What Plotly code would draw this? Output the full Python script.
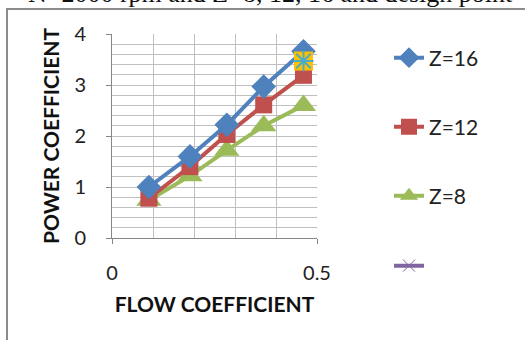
import plotly.graph_objects as go

flow = [0.09, 0.19, 0.28, 0.37, 0.467]
z16 = [1.0, 1.6, 2.22, 2.97, 3.66]
z12 = [0.78, 1.40, 2.03, 2.61, 3.19]
z8 = [0.74, 1.22, 1.72, 2.2, 2.6]
design_x = [0.467]
design_y = [3.47]

W, H = 525, 340
L, R, T, B = 112, 208, 34, 102
pw, ph = W - L - R, H - T - B


def px(x):
    return (x - L) / pw


def py(y):
    return (H - B - y) / ph


font = "Lato, Open Sans, sans-serif"
fig = go.Figure()
fig.add_trace(go.Scatter(x=flow, y=z8, name="Z=8", mode="lines+markers",
                         line=dict(color="#9BBB59", width=4),
                         marker=dict(symbol="triangle-up", size=22, color="#9BBB59"),
                         legend="legend3"))
fig.add_trace(go.Scatter(x=flow, y=z12, name="Z=12", mode="lines+markers",
                         line=dict(color="#C0504D", width=4),
                         marker=dict(symbol="square", size=17, color="#C0504D"),
                         legend="legend2"))
fig.add_trace(go.Scatter(x=flow, y=z16, name="Z=16", mode="lines+markers",
                         line=dict(color="#4F81BD", width=4),
                         marker=dict(symbol="diamond", size=19, color="#4F81BD"),
                         legend="legend"))
fig.add_trace(go.Scatter(x=design_x, y=design_y, name=" ", mode="lines+markers",
                         line=dict(color="#8064A2", width=4),
                         marker=dict(symbol="x-thin", size=12, line=dict(color="#8064A2", width=1)),
                         legend="legend4"))
fig.add_trace(go.Scatter(x=design_x, y=design_y, mode="markers", showlegend=False,
                         marker=dict(symbol="square", size=19, color="#FFC000")))
fig.add_trace(go.Scatter(x=design_x, y=design_y, mode="markers", showlegend=False,
                         marker=dict(symbol="asterisk", size=17, line=dict(color="#4BACC6", width=2))))

leg_common = dict(xanchor="left", yanchor="middle", bgcolor="rgba(0,0,0,0)",
                  font=dict(family=font, size=21, color="#222"), itemwidth=30)
lx = px(389)
fig.update_layout(
    width=W, height=H,
    margin=dict(l=L, r=R, t=T, b=B),
    paper_bgcolor="white", plot_bgcolor="white",
    legend=dict(x=lx, y=py(58), **leg_common),
    legend2=dict(x=lx, y=py(127), **leg_common),
    legend3=dict(x=lx, y=py(196), **leg_common),
    legend4=dict(x=lx, y=py(266), **leg_common),
    xaxis=dict(range=[0, 0.5], tickvals=[0, 0.5], ticktext=["0", "0.5"],
               showgrid=True, gridcolor="#BFBFBF", gridwidth=1,
               minor=dict(dtick=0.1, showgrid=True, gridcolor="#BFBFBF", gridwidth=1),
               showline=True, linecolor="#868686", linewidth=1,
               ticks="outside", ticklen=5, tickcolor="#868686",
               ticklabelstandoff=12,
               tickfont=dict(family=font, size=20, color="#222"),
               title=dict(text="<b>FLOW COEFFICIENT</b>", standoff=14,
                          font=dict(family=font, size=21, color="#111")),
               zeroline=False, fixedrange=True),
    yaxis=dict(range=[0, 4], dtick=1,
               showgrid=True, gridcolor="#BFBFBF", gridwidth=1,
               minor=dict(dtick=0.2, showgrid=True, gridcolor="#BFBFBF", gridwidth=1),
               showline=True, linecolor="#868686", linewidth=1,
               ticks="outside", ticklen=5, tickcolor="#868686",
               ticklabelstandoff=16,
               tickfont=dict(family=font, size=20, color="#222"),
               title=dict(text="<b>POWER COEFFICIENT</b>", standoff=9,
                          font=dict(family=font, size=21, color="#111")),
               zeroline=False, fixedrange=True),
    shapes=[dict(type="rect", xref="paper", yref="paper",
                 x0=px(7), x1=px(560), y0=py(380), y1=py(9),
                 line=dict(color="#8C8C8C", width=2), fillcolor="rgba(0,0,0,0)")],
    annotations=[dict(text="N=2000 rpm and Z=8, 12, 16 and design point",
                      xref="paper", yref="paper", x=px(270), y=py(10),
                      xanchor="center", yanchor="bottom", showarrow=False,
                      font=dict(family="Liberation Serif, serif", size=26, color="#111"))],
)
fig.write_html("out.html")
